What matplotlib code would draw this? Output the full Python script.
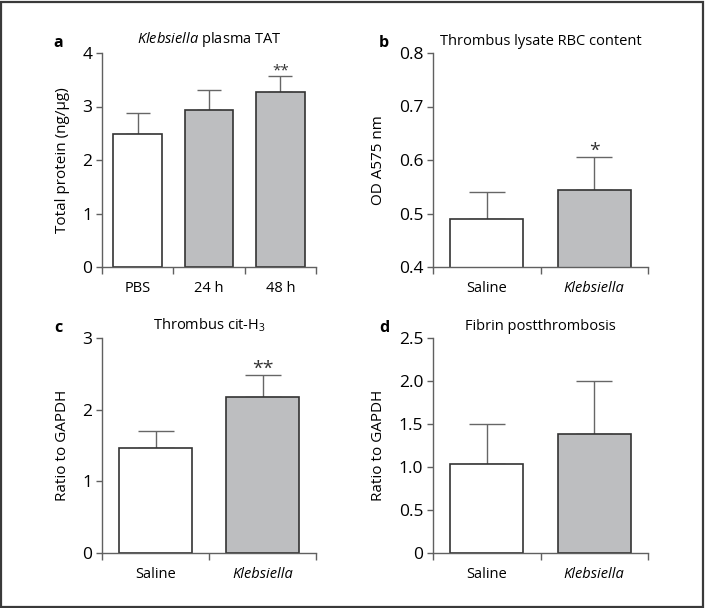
import matplotlib

matplotlib.use("Agg")
import matplotlib.pyplot as plt
from matplotlib.patches import Rectangle

# data
tat_groups = ["PBS", "24 h", "48 h"]
tat_mean = [2.49, 2.93, 3.27]
tat_sem = [0.38, 0.38, 0.30]

rbc_groups = ["Saline", "Klebsiella"]
rbc_mean = [0.489, 0.543]
rbc_sem = [0.051, 0.062]

cith3_groups = ["Saline", "Klebsiella"]
cith3_mean = [1.465, 2.175]
cith3_sem = [0.235, 0.305]

fibrin_groups = ["Saline", "Klebsiella"]
fibrin_mean = [1.04, 1.38]
fibrin_sem = [0.455, 0.62]

plt.rcParams.update(
    {
        "font.family": ["Open Sans", "DejaVu Sans"],
        "font.size": 10,
        "mathtext.fontset": "custom",
        "mathtext.rm": "Open Sans",
        "mathtext.it": "Open Sans:italic",
        "mathtext.bf": "Open Sans:bold",
    }
)

SPINE = "#606060"
EDGE = "#333333"
GREY = "#bdbec0"
ERR = "#666666"
W = 705
H = 608

fig = plt.figure(figsize=(7.05, 6.08), dpi=100)


def px_axes(left, right, top, bottom):
    return fig.add_axes([left / W, 1 - bottom / H, (right - left) / W, (bottom - top) / H])


def panel(ax, groups, mean, sem, ylim, yticks, yticklabels, ylabel, capsize):
    x = list(range(len(groups)))
    colors = ["white"] + [GREY] * (len(groups) - 1)
    ax.bar(x, mean, width=0.68, color=colors, edgecolor=EDGE, linewidth=1.2, zorder=2)
    ax.errorbar(
        x, mean, yerr=[[0] * len(sem), sem], fmt="none", ecolor=ERR,
        elinewidth=1.0, capsize=capsize, capthick=1.0, zorder=1,
    )
    ax.set_xlim(-0.5, len(groups) - 0.5)
    ax.set_ylim(*ylim)
    ax.set_yticks(yticks)
    ax.set_yticklabels(yticklabels, fontsize=12.5)
    ax.set_xticks(x)
    ax.set_xticklabels(groups, fontsize=10.5)
    for lab in ax.get_xticklabels():
        if lab.get_text() == "Klebsiella":
            lab.set_style("italic")
    ax.set_xticks([i - 0.5 for i in range(len(groups) + 1)], minor=True)
    ax.tick_params(axis="x", which="major", length=0, pad=10)
    ax.tick_params(axis="x", which="minor", length=5, width=1.0, color=SPINE, direction="out")
    ax.tick_params(axis="y", length=4, width=1.0, color=SPINE, pad=3)
    for side in ("top", "right"):
        ax.spines[side].set_visible(False)
    for side in ("left", "bottom"):
        ax.spines[side].set_color(SPINE)
        ax.spines[side].set_linewidth(1.0)
    ax.set_ylabel(ylabel, fontsize=11, labelpad=9)


def stars(ax, xi, mean, sem, text, size, offset):
    ax.annotate(text, (xi, mean + sem), xytext=(0, offset), textcoords="offset points",
                ha="center", va="bottom", fontsize=size, color="#333333")


ax_a = px_axes(102, 316, 53, 267)
panel(ax_a, tat_groups, tat_mean, tat_sem, (0, 4), [0, 1, 2, 3, 4],
      ["0", "1", "2", "3", "4"], "Total protein (ng/µg)", 8.6)
stars(ax_a, 2, tat_mean[2], tat_sem[2], "**", 11, -2)
ax_a.text(0.5, 1.02, r"$\mathit{Klebsiella}$ plasma TAT", transform=ax_a.transAxes,
          ha="center", va="bottom", fontsize=10.5)

ax_b = px_axes(433, 648, 53, 267)
panel(ax_b, rbc_groups, rbc_mean, rbc_sem, (0.4, 0.8), [0.4, 0.5, 0.6, 0.7, 0.8],
      ["0.4", "0.5", "0.6", "0.7", "0.8"], "OD A575 nm", 13)
stars(ax_b, 1, rbc_mean[1], rbc_sem[1], "*", 14, -2)
ax_b.text(0.5, 1.02, "Thrombus lysate RBC content", transform=ax_b.transAxes,
          ha="center", va="bottom", fontsize=10.5)

ax_c = px_axes(102, 316, 338, 553)
panel(ax_c, cith3_groups, cith3_mean, cith3_sem, (0, 3), [0, 1, 2, 3],
      ["0", "1", "2", "3"], "Ratio to GAPDH", 13)
stars(ax_c, 1, cith3_mean[1], cith3_sem[1], "**", 14, -2)
ax_c.text(0.5, 1.02, r"Thrombus cit-H$_3$", transform=ax_c.transAxes,
          ha="center", va="bottom", fontsize=10.5)

ax_d = px_axes(433, 648, 338, 553)
panel(ax_d, fibrin_groups, fibrin_mean, fibrin_sem, (0, 2.5), [0, 0.5, 1.0, 1.5, 2.0, 2.5],
      ["0", "0.5", "1.0", "1.5", "2.0", "2.5"], "Ratio to GAPDH", 13)
ax_d.text(0.5, 1.02, "Fibrin postthrombosis", transform=ax_d.transAxes,
          ha="center", va="bottom", fontsize=10.5)

# panel letters
for letter, (lx, ly) in zip("abcd", [(58, 43), (384, 43), (58, 328), (384, 328)]):
    fig.text(lx / W, 1 - ly / H, letter, fontsize=11.5, fontweight="bold", ha="center", va="center")

# outer frame
fig.patches.append(Rectangle((1 / W, 1 / H), 1 - 3 / W, 1 - 3 / H, transform=fig.transFigure,
                             fill=False, edgecolor="#3a3a3a", linewidth=1.6))

fig.savefig("out.png", dpi=100)
